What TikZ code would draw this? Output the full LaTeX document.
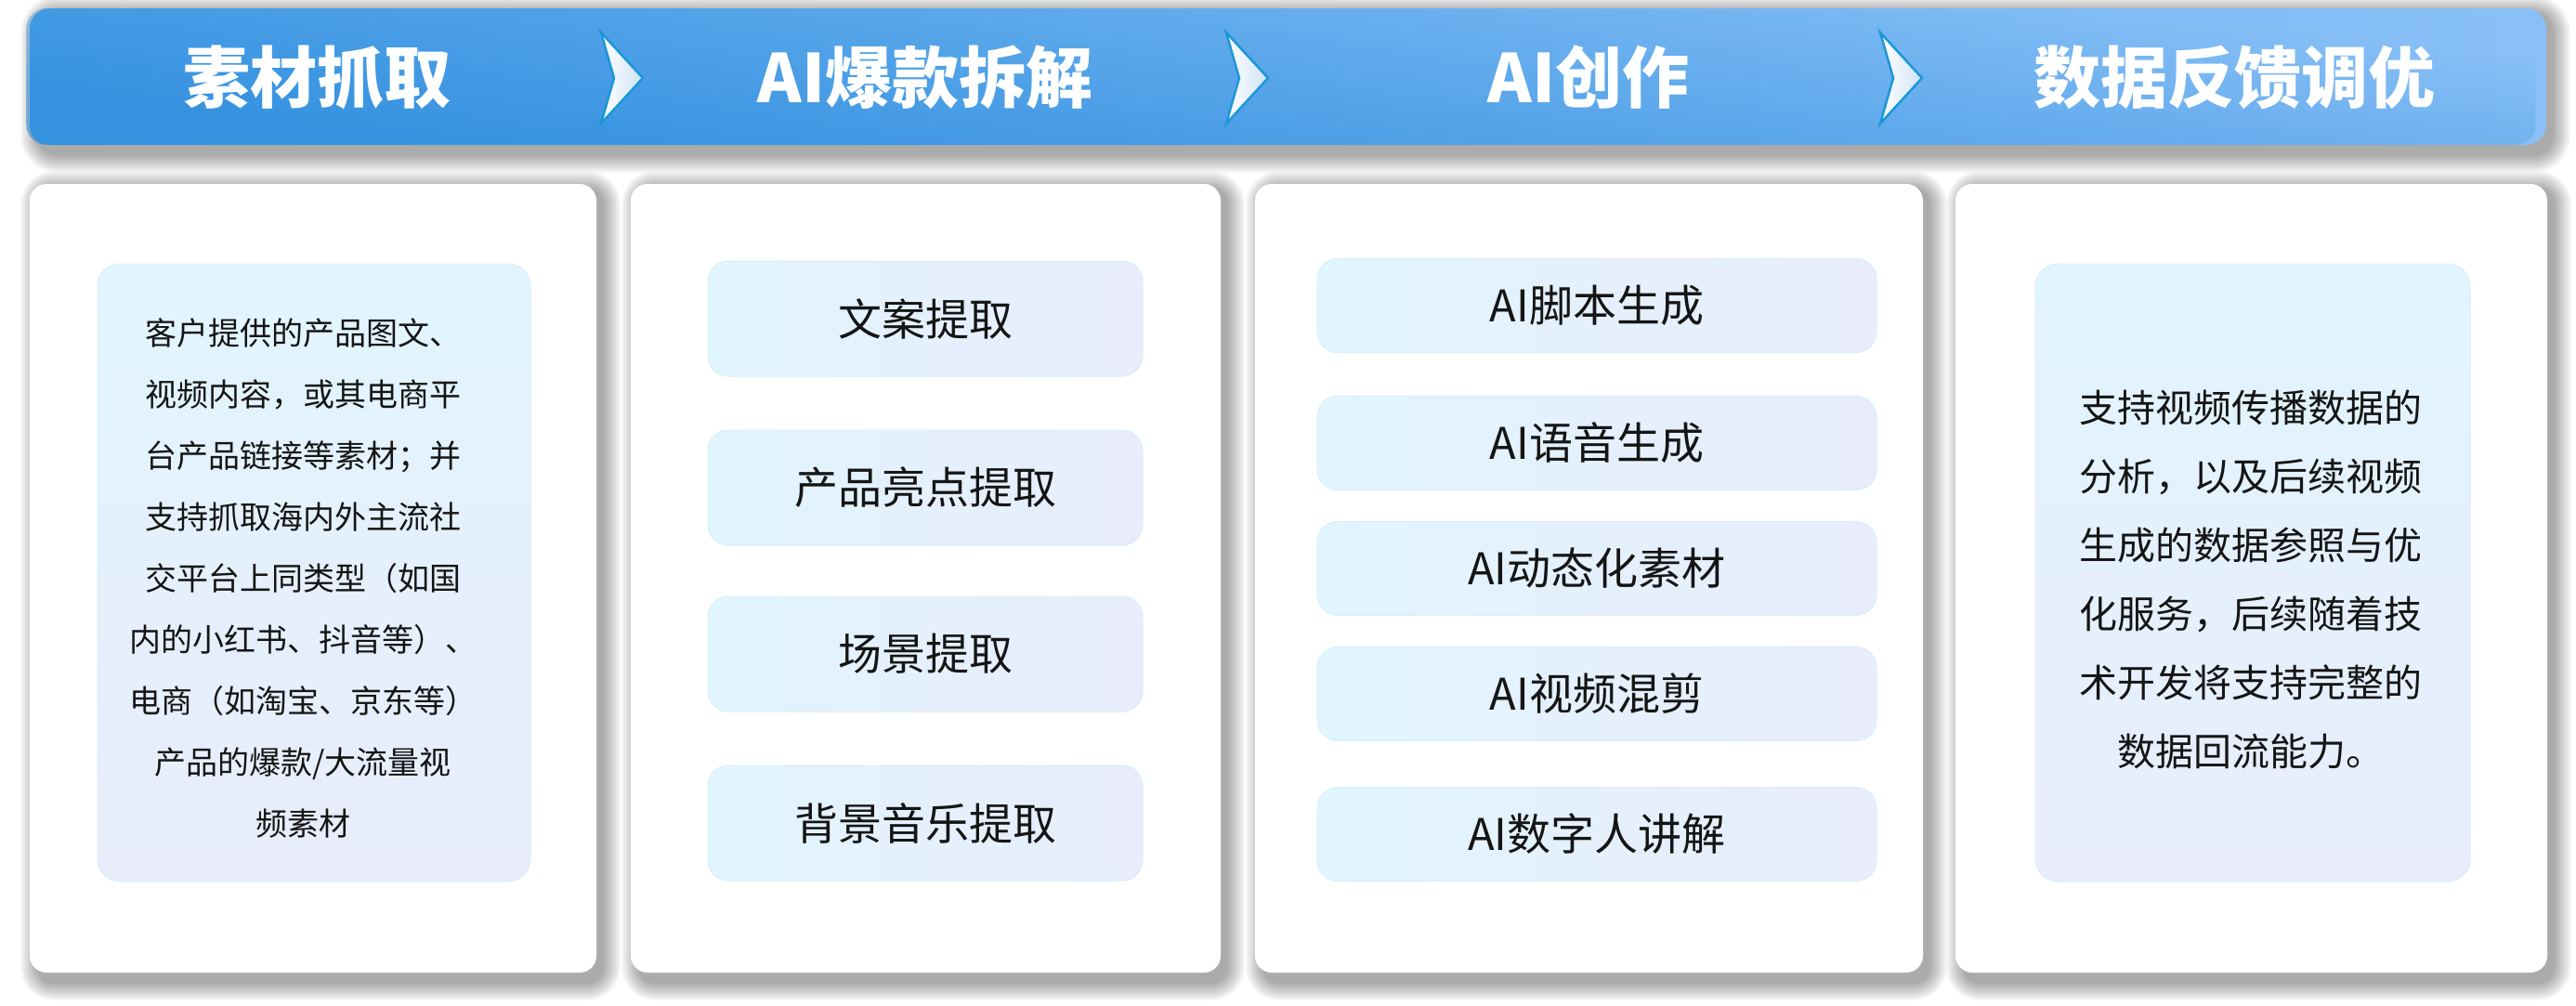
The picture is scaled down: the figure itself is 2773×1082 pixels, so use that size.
\documentclass[tikz,border=0pt]{standalone}
\usepackage{fontspec}
\setmainfont{Noto Sans CJK SC}
\usetikzlibrary{fadings}
\definecolor{barL}{HTML}{58A8EC}
\definecolor{barR}{HTML}{89C0F7}
\definecolor{barD}{HTML}{137DD4}
\definecolor{chevB}{HTML}{1C97D6}
\definecolor{chevL}{HTML}{CFE3F7}
\definecolor{boxC}{HTML}{E1F5FE}
\definecolor{boxV}{HTML}{E8ECFB}
\definecolor{boxEdge}{HTML}{D8EEFB}
\definecolor{ink}{HTML}{151515}
\tikzfading[name=barfade, top color=transparent!100, bottom color=transparent!0, shading angle=-55]
\newcommand\softshadow[5]{%
  \foreach \k in {0,...,7}{%
    \pgfmathsetmacro\ee{2.5*\k}%
    \pgfmathsetmacro\rr{#5+\ee}%
    \fill[black, opacity=0.048, rounded corners=\rr pt] ({#1+8-\ee},{#2+4-\ee}) rectangle ({#3+8+\ee},{#4+12+\ee});
  }}
\tikzset{
  title/.style={text=white, font=\fontsize{72}{80}\selectfont\bfseries, inner sep=0pt},
  chev/.style={draw=chevB, line width=2.5pt, left color=white, right color=chevL, line join=miter},
  panel/.style={fill=white, rounded corners=18pt, inner sep=0pt},
  infobox/.style={rounded corners=24pt, top color=boxC, bottom color=boxV, draw=boxEdge, line width=1pt, inner sep=0pt},
  itembox/.style={rounded corners=22pt, left color=boxC, right color=boxV, draw=boxEdge, line width=1pt, inner sep=0pt, text=ink, font=\fontsize{47}{56}\selectfont},
  bodytext/.style={text=ink, align=center, inner sep=0pt},
}
\begin{document}
\begin{tikzpicture}[x=1pt, y=-1pt]
\useasboundingbox[fill=white] (0,0) rectangle (2773,1082);
% shadows
\softshadow{32}{198}{642}{1047}{18}
\softshadow{679}{198}{1314}{1047}{18}
\softshadow{1351}{198}{2070}{1047}{18}
\softshadow{2105}{198}{2742}{1047}{18}
\softshadow{32}{9}{2741}{156}{22}
% header bar
\path[left color=barL, right color=barR, rounded corners=22pt] (32,9) rectangle (2741,156);
\fill[barD, opacity=0.5, path fading=barfade, rounded corners=22pt] (32,9) rectangle (2741,156);
\node[title] (t1) at (341,83) {素材抓取};
\node[title] (t2) at (996,83) {AI爆款拆解};
\node[title] (t3) at (1710,83) {AI创作};
\node[title] (t4) at (2405,83) {数据反馈调优};
% chevrons
\path[chev] (647,35) -- (692,84) -- (647,133) -- (661,84) -- cycle;
\path[chev] (1320,35) -- (1365,84) -- (1320,133) -- (1334,84) -- cycle;
\path[chev] (2024,35) -- (2069,84) -- (2024,133) -- (2038,84) -- cycle;
% panels
\node[panel, minimum width=610pt, minimum height=849pt] (p1) at (337,622.5) {};
\node[panel, minimum width=635pt, minimum height=849pt] (p2) at (996.5,622.5) {};
\node[panel, minimum width=719pt, minimum height=849pt] (p3) at (1710.5,622.5) {};
\node[panel, minimum width=637pt, minimum height=849pt] (p4) at (2423.5,622.5) {};
% panel 1
\node[infobox, minimum width=466pt, minimum height=665pt] (b1) at (338,616.5) {};
\node[bodytext, font=\fontsize{34}{66}\selectfont] (b1t) at (326,622) {客户提供的产品图文、\\视频内容，或其电商平\\台产品链接等素材；并\\支持抓取海内外主流社\\交平台上同类型（如国\\内的小红书、抖音等）、\\电商（如淘宝、京东等）\\产品的爆款/大流量视\\频素材};
% panel 2
\node[itembox, minimum width=468pt, minimum height=124pt] (a1) at (996,343) {文案提取};
\node[itembox, minimum width=468pt, minimum height=124pt] (a2) at (996,525) {产品亮点提取};
\node[itembox, minimum width=468pt, minimum height=124pt] (a3) at (996,704) {场景提取};
\node[itembox, minimum width=468pt, minimum height=124pt] (a4) at (996,886) {背景音乐提取};
% panel 3
\node[itembox, minimum width=602pt, minimum height=101pt] (c1) at (1719,329) {AI脚本生成};
\node[itembox, minimum width=602pt, minimum height=101pt] (c2) at (1719,477) {AI语音生成};
\node[itembox, minimum width=602pt, minimum height=101pt] (c3) at (1719,612) {AI动态化素材};
\node[itembox, minimum width=602pt, minimum height=101pt] (c4) at (1719,747) {AI视频混剪};
\node[itembox, minimum width=602pt, minimum height=101pt] (c5) at (1719,898) {AI数字人讲解};
% panel 4
\node[infobox, minimum width=468pt, minimum height=665pt] (b4) at (2425,616.5) {};
\node[bodytext, font=\fontsize{41}{74}\selectfont] (b4t) at (2423,624) {支持视频传播数据的\\分析，以及后续视频\\生成的数据参照与优\\化服务，后续随着技\\术开发将支持完整的\\数据回流能力。};
\end{tikzpicture}
\end{document}
